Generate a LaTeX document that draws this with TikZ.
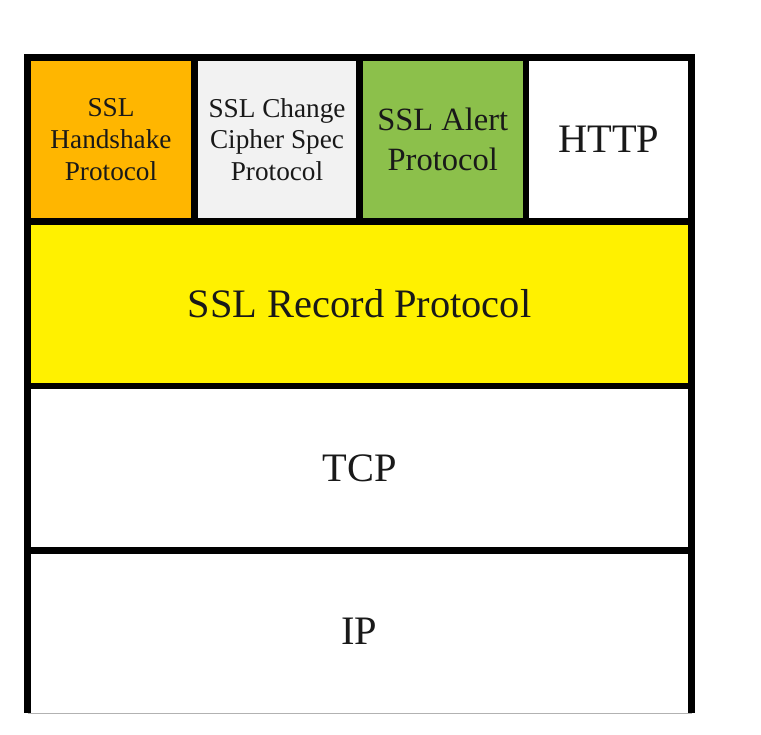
\documentclass[tikz,border=0pt]{standalone}
\usepackage{fontspec}
\setmainfont{Liberation Serif}
\usepackage{xcolor}
\usetikzlibrary{positioning}

\definecolor{hsorange}{HTML}{FFB600}
\definecolor{ccsgray}{HTML}{F2F2F2}
\definecolor{alertgreen}{HTML}{8CC04B}
\definecolor{recyellow}{HTML}{FFF100}

\begin{document}
\begin{tikzpicture}[
    cell/.style={draw=black, line width=0.13cm, inner sep=0pt, outer sep=0pt, align=center, text=black!90},
    small/.style={cell, font=\fontsize{15.5}{18}\selectfont},
    mid/.style={cell, font=\fontsize{18.5}{22.5}\selectfont},
    big/.style={cell, font=\fontsize{23}{26}\selectfont},
    frame/.style={line width=0.13cm}
]
    \useasboundingbox (0,0) rectangle (15.22,14.68);

    % Top row
    \node[small, fill=hsorange, minimum width=3.34cm, minimum height=3.28cm] (handshake) at (2.22, 11.89) {SSL\\Handshake\\Protocol};
    \node[small, fill=ccsgray, minimum width=3.30cm, minimum height=3.28cm] (cipher) at (5.54, 11.89) {SSL Change\\Cipher Spec\\Protocol};
    \node[mid, fill=alertgreen, minimum width=3.33cm, minimum height=3.28cm] (alert) at (8.855, 11.89) {SSL Alert\\Protocol};
    \node[big, fill=white, minimum width=3.31cm, minimum height=3.28cm] (http) at (12.175, 11.89) {HTTP};

    % Layers below
    \node[big, fill=recyellow, minimum width=13.28cm, minimum height=3.29cm] (record) at (7.19, 8.605) {SSL Record Protocol};
    \node[big, draw=none, minimum width=13.28cm, minimum height=3.25cm] (ip) at (7.19, 2.045) {IP};
    \node[big, minimum width=13.28cm, minimum height=3.29cm] (tcp) at (7.19, 5.315) {TCP};

    % Open bottom
    \draw[frame] (ip.north west) -- (ip.south west);
    \draw[frame] (ip.north east) -- (ip.south east);
    \draw[black!30, thin] (ip.south west) -- (ip.south east);
\end{tikzpicture}
\end{document}
